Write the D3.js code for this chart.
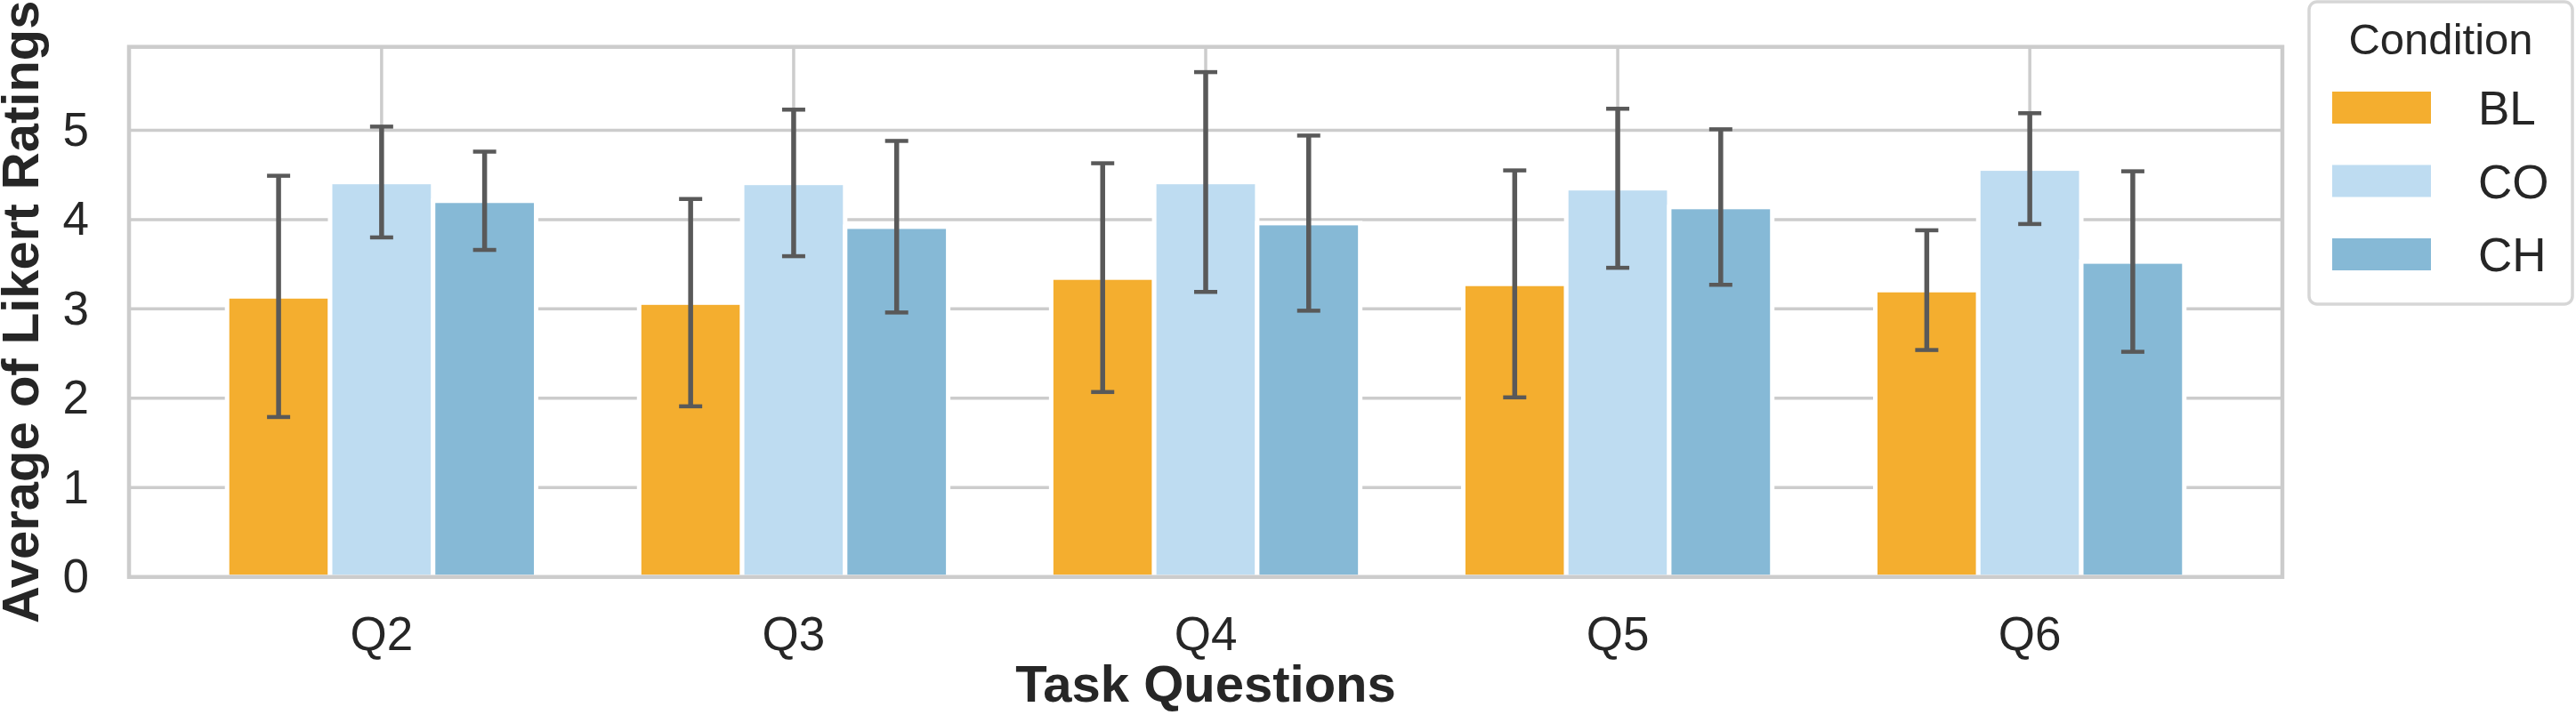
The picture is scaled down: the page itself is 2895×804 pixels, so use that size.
<!DOCTYPE html>
<html>
<head>
<meta charset="utf-8">
<script src="https://cdn.jsdelivr.net/npm/d3@7"></script>
<style>
  body { margin: 0; background: #fff; }
  text { font-family: "Liberation Sans", Arial, sans-serif; fill: #262626; }
</style>
</head>
<body>
<svg id="chart"></svg>
<script>
// data
let questions = ["Q2", "Q3", "Q4", "Q5", "Q6"];
let conditions = ["BL", "CO", "CH"];
let meanBL = [3.14, 3.07, 3.35, 3.28, 3.21];
let meanCO = [4.42, 4.41, 4.42, 4.35, 4.57];
let meanCH = [4.21, 3.92, 3.96, 4.14, 3.53];
let sdBL = [1.35, 1.16, 1.28, 1.27, 0.67];
let sdCO = [0.62, 0.82, 1.23, 0.89, 0.62];
let sdCH = [0.55, 0.96, 0.98, 0.87, 1.01];
let yTicks = [0, 1, 2, 3, 4, 5];

let colors = ["#f4ae2f", "#bedcf1", "#86b9d6"];

let W = 2895, H = 804;
let plot = {left: 145, right: 2565, top: 52.7, bottom: 648.8};

let svg = d3.select("#chart").attr("width", W).attr("height", H);

let means = [meanBL, meanCO, meanCH];
let sds = [sdBL, sdCO, sdCH];
let rows = [];
for (let i = 0; i < questions.length; i++) {
    for (let j = 0; j < conditions.length; j++) {
        rows.push({q: questions[i], c: conditions[j], ci: j, mean: means[j][i], sd: sds[j][i]});
    }
}

let yMax = d3.max(rows, d => d.mean + d.sd) * 1.05;

let x0 = d3.scaleBand()
    .domain(questions)
    .range([plot.left, plot.right])
    .paddingInner(0)
    .paddingOuter(0.113);
let bw = x0.bandwidth();
let x1 = d3.scaleBand()
    .domain(conditions)
    .range([bw * 0.125, bw * 0.875]);

let y = d3.scaleLinear()
    .domain([0, yMax])
    .range([plot.bottom, plot.top]);

// grid
let grid = svg.append("g");
grid.selectAll(".hg")
    .data(yTicks)
    .enter().append("line")
    .attr("x1", plot.left).attr("x2", plot.right)
    .attr("y1", d => y(d)).attr("y2", d => y(d))
    .attr("stroke", "#cccccc").attr("stroke-width", 3.5);
grid.selectAll(".vg")
    .data(questions)
    .enter().append("line")
    .attr("x1", d => x0(d) + bw / 2).attr("x2", d => x0(d) + bw / 2)
    .attr("y1", plot.top).attr("y2", plot.bottom)
    .attr("stroke", "#cccccc").attr("stroke-width", 3.5);

// bars
svg.append("g").selectAll("rect")
    .data(rows)
    .enter().append("rect")
    .attr("x", d => x0(d.q) + x1(d.c))
    .attr("width", x1.bandwidth())
    .attr("y", d => y(d.mean))
    .attr("height", d => y(0) - y(d.mean))
    .attr("fill", d => colors[d.ci])
    .attr("stroke", "#ffffff")
    .attr("stroke-width", 5);

// error bars
let eb = svg.append("g").attr("stroke", "#595959");
let cx = d => x0(d.q) + x1(d.c) + x1.bandwidth() / 2;
eb.selectAll(".v")
    .data(rows)
    .enter().append("line")
    .attr("x1", cx).attr("x2", cx)
    .attr("y1", d => y(d.mean - d.sd)).attr("y2", d => y(d.mean + d.sd))
    .attr("stroke-width", 5.5);
eb.selectAll(".ct")
    .data(rows)
    .enter().append("line")
    .attr("x1", d => cx(d) - 13).attr("x2", d => cx(d) + 13)
    .attr("y1", d => y(d.mean + d.sd)).attr("y2", d => y(d.mean + d.sd))
    .attr("stroke-width", 4.5);
eb.selectAll(".cb")
    .data(rows)
    .enter().append("line")
    .attr("x1", d => cx(d) - 13).attr("x2", d => cx(d) + 13)
    .attr("y1", d => y(d.mean - d.sd)).attr("y2", d => y(d.mean - d.sd))
    .attr("stroke-width", 4.5);

// frame
svg.append("rect")
    .attr("x", plot.left).attr("y", plot.top)
    .attr("width", plot.right - plot.left)
    .attr("height", plot.bottom - plot.top)
    .attr("fill", "none")
    .attr("stroke", "#cccccc")
    .attr("stroke-width", 4.5);

// axes
let yAxis = svg.append("g")
    .attr("transform", "translate(" + plot.left + ",0)")
    .call(d3.axisLeft(y).tickValues(yTicks).tickSize(0).tickPadding(45).tickFormat(d3.format("d")));
yAxis.select(".domain").remove();
yAxis.selectAll("text").attr("font-size", "53px").attr("fill", "#262626")
    .attr("font-family", "Liberation Sans, Arial, sans-serif");

let xAxis = svg.append("g")
    .attr("transform", "translate(0," + plot.bottom + ")")
    .call(d3.axisBottom(x0).tickSize(0).tickPadding(45));
xAxis.select(".domain").remove();
xAxis.selectAll("text").attr("font-size", "53px").attr("fill", "#262626")
    .attr("font-family", "Liberation Sans, Arial, sans-serif");

// axis titles
svg.append("text")
    .attr("x", (plot.left + plot.right) / 2)
    .attr("y", 789)
    .attr("text-anchor", "middle")
    .attr("font-size", "58px")
    .attr("font-weight", "bold")
    .text("Task Questions");
svg.append("text")
    .attr("transform", "translate(43," + ((plot.top + plot.bottom) / 2) + ") rotate(-90)")
    .attr("text-anchor", "middle")
    .attr("font-size", "58px")
    .attr("font-weight", "bold")
    .text("Average of Likert Ratings");

// legend
let lg = svg.append("g");
lg.append("rect")
    .attr("x", 2595).attr("y", 2)
    .attr("width", 296).attr("height", 340)
    .attr("rx", 9)
    .attr("fill", "#ffffff")
    .attr("stroke", "#d6d6d6")
    .attr("stroke-width", 3.5);
lg.append("text")
    .attr("x", 2743).attr("y", 61)
    .attr("text-anchor", "middle")
    .attr("font-size", "49px")
    .text("Condition");
let items = lg.selectAll(".item")
    .data(conditions)
    .enter().append("g")
    .attr("transform", (d, i) => "translate(0," + (i * 82.5) + ")");
items.append("rect")
    .attr("x", 2621).attr("y", 103)
    .attr("width", 111).attr("height", 36)
    .attr("fill", (d, i) => colors[i]);
items.append("text")
    .attr("x", 2785).attr("y", 140)
    .attr("font-size", "53px")
    .text(d => d);
</script>
</body>
</html>
